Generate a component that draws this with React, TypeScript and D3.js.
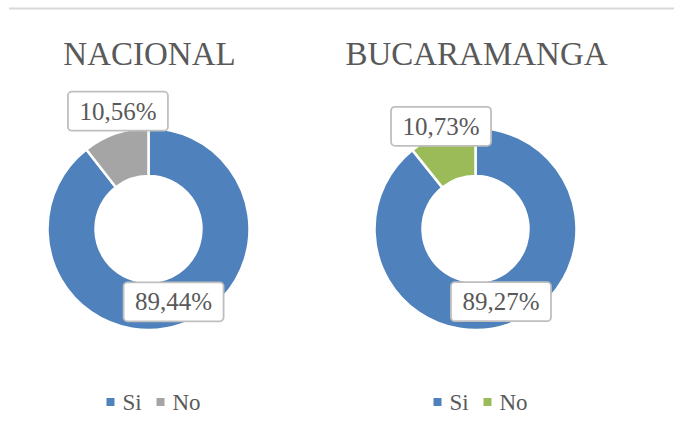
import React from "react";
import * as d3 from "d3";

const categories = ["Si", "No"];
const chartTitles = ["NACIONAL", "BUCARAMANGA"];
const nacionalValues = [89.44, 10.56];
const bucaramangaValues = [89.27, 10.73];
const nacionalColors = ["#4F81BD", "#A5A5A5"];
const bucaramangaColors = ["#4F81BD", "#9BBB59"];

const W = 674;
const H = 436;
const FONT = "'Liberation Serif', 'Times New Roman', serif";
const TEXT = "#595959";

const charts = [
  { title: chartTitles[0], values: nacionalValues, colors: nacionalColors, cx: 148.5, noOffset: [-5.5, -45] },
  { title: chartTitles[1], values: bucaramangaValues, colors: bucaramangaColors, cx: 475.5, noOffset: [-9, -30] },
];

const fmt = (v: number) => v.toFixed(2).replace(".", ",") + "%";

function Donut({ chart }: { chart: typeof charts[number] }) {
  const cy = 229;
  const pie = d3.pie<number>().sort(null).value((d) => d);
  const arcs = pie(chart.values);
  const arc = d3.arc<d3.PieArcDatum<number>>().innerRadius(53).outerRadius(101);
  const boxW = 100;
  const boxH = 39;
  const legendX = chart.cx - 42;
  const legendOffsets = [0, 50];
  return (
    <g>
      <text x={chart.cx + 1} y={65} textAnchor="middle" fontFamily={FONT} fontSize={33} fill={TEXT}>
        {chart.title}
      </text>
      <g transform={`translate(${chart.cx},${cy})`}>
        {arcs.map((a, i) => (
          <path key={i} d={arc(a) || ""} fill={chart.colors[i]} stroke="#fff" strokeWidth={2.5} />
        ))}
        {arcs.map((a, i) => {
          const [x0, y0] = arc.centroid(a);
          const off = i === 1 ? chart.noOffset : [0, 0];
          const x = x0 + off[0];
          const y = y0 + off[1];
          return (
            <g key={"l" + i}>
              <rect x={x - boxW / 2} y={y - boxH / 2} width={boxW} height={boxH} rx={4} ry={4}
                fill="#fff" stroke="#BFBFBF" strokeWidth={1.8} />
              <text x={x} y={y + 8.5} textAnchor="middle" fontFamily={FONT} fontSize={25} fill={TEXT}>
                {fmt(chart.values[i])}
              </text>
            </g>
          );
        })}
      </g>
      {categories.map((c, i) => (
        <g key={"lg" + i} transform={`translate(${legendX + legendOffsets[i]},0)`}>
          <rect x={0} y={398} width={8} height={8} fill={chart.colors[i]} />
          <text x={16} y={410} fontFamily={FONT} fontSize={23} fill={TEXT}>{c}</text>
        </g>
      ))}
    </g>
  );
}

export default function App() {
  return (
    <svg width={W} height={H} style={{ position: "absolute", left: 0, top: 0, background: "#fff" }}>
      <rect width={W} height={H} fill="#fff" />
      <line x1={9} x2={W} y1={8.5} y2={8.5} stroke="#D9D9D9" strokeWidth={2} />
      {charts.map((c, i) => (
        <Donut key={i} chart={c} />
      ))}
    </svg>
  );
}
